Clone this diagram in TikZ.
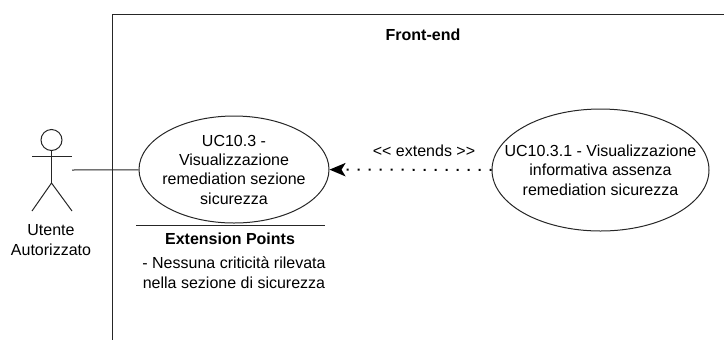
\documentclass[tikz,border=0pt]{standalone}
\usepackage{fontspec}
\setmainfont{Liberation Sans}
\usetikzlibrary{arrows.meta}
\usetikzlibrary{shapes.geometric}
\newcommand{\stickactor}{
    \draw[umlline] (51.5, 140) circle (10.5);
    \draw[umlline] (51.5, 150.5) -- (51.5, 183);
    \draw[umlline] (32, 156) -- (72, 156);
    \draw[umlline] (32, 211) -- (51.5, 183) -- (72, 211);
}
\tikzset{
    umlline/.style={line width=0.75pt, color=black!85},
    usecase/.style={draw=black!85, line width=0.75pt, ellipse, inner sep=0pt},
    plaintext/.style={inner sep=0pt, align=center, font=\fontsize{12}{15}\selectfont},
    casetext/.style={inner sep=0pt, align=center, font=\fontsize{12}{14.5}\selectfont},
    boldtext/.style={inner sep=0pt, font=\fontsize{12}{15}\selectfont\bfseries},
}
\begin{document}
\begin{tikzpicture}[x=0.75pt, y=-0.75pt]
        \useasboundingbox (0, 0) rectangle (724, 340);
        % draw system boundary
        \draw[umlline] (724, 14.5) -- (112.5, 14.5) -- (112.5, 340);
        \node[boldtext] (frontend) at (423, 35) {Front-end};
        % draw actor
        \stickactor
        \coordinate (hand) at (72, 170);
        \node[plaintext] (actorlabel) at (51, 240) {Utente\\Autorizzato};
        % draw use cases
        \node[usecase, minimum width=142.5pt, minimum height=80.25pt] (uc103) at (234, 169.5) {};
        \node[casetext] (uc103text) at (uc103) {UC10.3 -\\Visualizzazione\\remediation sezione\\sicurezza};
        \node[usecase, minimum width=162.75pt, minimum height=91.5pt] (uc1031) at (600.5, 170) {};
        \node[casetext] (uc1031text) at (uc1031) {UC10.3.1 - Visualizzazione\\informativa assenza\\remediation sicurezza};
        % draw extension points compartment
        \coordinate (sepleft) at (136, 225);
        \coordinate (sepright) at (325, 225);
        \draw[umlline] (sepleft) -- (sepright);
        \node[boldtext] (extpoints) at (230, 239) {Extension Points};
        \node[plaintext] (extbody) at (234, 273) {- Nessuna criticità rilevata\\nella sezione di sicurezza};
        % draw connectors
        \draw[umlline] (hand) -- (uc103);
        \draw[-{Stealth[length=12pt, width=10pt, inset=3pt]}, line width=1.5pt, color=black, dash pattern=on 1.5pt off 6.75pt] (uc1031) -- (uc103);
        \node[plaintext] (extends) at (424, 151) {<{}< extends >{}>};
    \end{tikzpicture}
\end{document}
